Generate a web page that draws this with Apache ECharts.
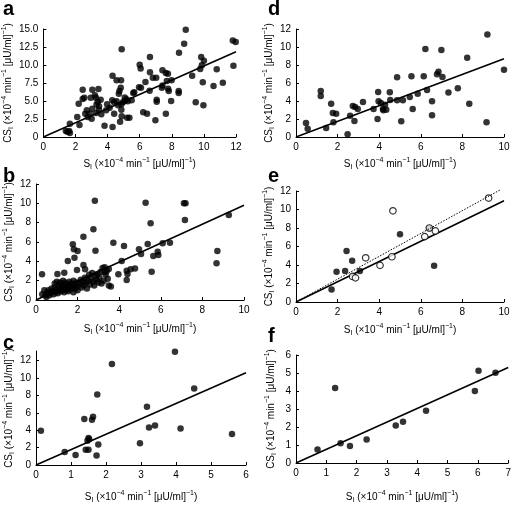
<!DOCTYPE html>
<html><head><meta charset="utf-8">
<script src="https://cdn.jsdelivr.net/npm/echarts@6/dist/echarts.min.js"></script>
<style>html,body{margin:0;padding:0;background:#fff}#c{width:514px;height:505px}</style>
</head><body><div id="c"></div>
<script>
// Panel a
const aX=[8.87,8.77,4.88,11.8,11.98,11.84,8.45,6.64,6.0,6.06,9.83,10.0,9.87,9.77,10.8,6.64,7.42,7.63,7.76,7.03,6.82,4.31,4.56,4.84,6.36,7.99,7.69,9.27,9.93,11.18,10.6,5.96,6.08,7.77,7.38,7.42,7.81,6.62,5.66,8.43,8.43,4.82,4.74,4.7,2.45,3.05,3.43,2.55,2.45,3.21,2.95,3.27,3.39,2.2,3.97,4.29,4.41,4.56,4.66,4.86,4.95,5.07,5.07,5.18,5.26,5.5,5.6,4.86,4.41,4.13,3.91,3.61,3.29,2.89,2.61,2.71,3.05,3.47,3.31,2.77,2.11,2.25,3.81,4.31,5.22,5.36,4.78,4.88,6.22,6.46,6.98,7.06,7.06,7.63,7.96,9.49,9.97,1.65,1.4,1.5,1.61,1.65,3.57,3.47,3.01];
const aY=[14.9,12.96,12.2,13.4,13.2,9.9,11.7,11.1,10.05,9.5,11.1,10.6,9.95,9.44,9.4,8.98,9.26,8.9,8.8,8.24,8.24,8.5,7.87,7.87,7.64,7.87,7.78,8.5,7.6,7.55,7.08,6.9,6.85,6.7,6.85,7.17,6.4,6.44,6.2,6.4,6.1,6.85,6.4,6.0,6.57,6.57,6.67,5.46,5.28,5.79,5.46,5.46,4.9,4.63,4.54,5.09,4.81,4.95,4.4,4.54,4.81,5.5,5.0,5.23,4.95,5.09,6.1,3.8,3.24,4.07,3.7,3.15,3.33,3.24,3.24,3.7,3.94,4.26,4.5,2.78,2.78,1.67,1.57,1.39,2.69,2.69,2.13,2.87,3.43,3.24,2.31,5.19,4.9,3.24,5.0,4.81,4.4,1.85,0.83,0.74,0.83,0.56,5.19,3.8,2.55];
const aFit=[[0,0],[12,11.85]];
// Panel b
const bX=[2.83,2.76,2.28,1.77,1.82,2.0,2.86,3.72,4.23,1.85,1.53,2.28,2.36,1.97,0.29,1.03,1.36,4.12,3.96,4.36,4.36,4.55,4.76,4.4,5.27,7.11,7.19,7.16,9.27,5.51,5.37,4.95,5.05,6.09,6.44,5.85,5.88,5.64,5.56,8.72,8.68,
0.3,0.4,0.45,0.5,0.55,0.6,0.65,0.7,0.75,0.8,0.85,0.9,0.9,0.95,1.0,1.0,1.05,1.1,1.1,1.15,1.2,1.2,1.25,1.3,1.3,1.35,1.4,1.4,1.45,1.5,1.5,1.55,1.6,1.6,1.65,1.7,1.75,1.8,1.8,1.85,1.9,1.95,2.0,2.0,2.1,2.15,2.2,2.25,2.3,2.35,2.4,2.45,2.5,2.55,2.6,2.65,2.7,2.75,2.8,2.85,2.9,2.95,3.0,3.05,3.1,3.15,3.2,3.25,3.3,3.35,3.4,3.45,3.5,3.6,3.3,3.5];
const bY=[10.27,7.31,6.55,5.76,5.24,5.07,5.1,5.93,5.58,4.37,4.03,3.62,3.17,3.1,2.66,2.69,2.83,4.03,2.66,2.07,3.03,3.17,3.27,2.7,10.06,10.0,10.0,8.27,8.79,7.93,5.79,5.24,4.76,5.86,5.93,5.0,4.65,4.55,2.93,5.07,3.79,
0.6,1.0,0.5,0.3,0.8,1.0,0.5,0.7,1.2,0.9,0.6,1.7,1.3,0.8,1.1,1.9,0.7,1.5,1.0,1.8,0.9,1.3,1.6,1.1,2.0,0.8,1.4,1.8,1.0,1.6,1.2,0.9,1.9,1.4,1.1,1.7,1.3,0.8,2.0,1.5,1.2,1.8,1.4,1.0,1.7,2.1,1.3,1.9,1.5,2.3,1.8,1.2,2.0,2.6,1.6,2.2,2.8,1.9,1.5,2.5,2.1,2.7,1.8,2.3,2.9,1.7,3.3,2.0,3.4,2.6,3.0,2.2,1.5,1.4,2.9,3.2];
const bFit=[[0,0],[10,9.8]];
// Panel c
const cX=[0.14,0.82,1.13,1.38,1.42,1.5,1.47,1.5,1.52,1.6,1.63,1.73,1.75,1.78,2.17,2.97,3.17,3.23,3.4,3.97,4.13,4.52,5.6];
const cY=[3.95,1.5,1.15,5.3,1.75,1.75,2.8,3.1,2.95,5.2,5.55,1.1,8.1,2.35,11.6,2.5,6.7,4.3,4.55,13.0,4.2,8.8,3.55];
const cFit=[[0,0],[6,10.6]];
// Panel d
const dX=[9.2,6.22,6.99,8.23,10.0,4.86,5.55,6.14,6.85,6.78,7.04,6.3,7.33,7.78,3.95,4.51,1.19,1.19,4.53,4.86,5.14,5.47,5.85,6.54,8.33,1.69,3.22,3.73,3.97,4.08,4.28,4.18,4.34,4.2,2.73,2.84,2.97,1.77,1.93,1.8,2.6,3.92,5.61,6.54,2.81,5.06,9.16,0.48,0.56,1.45,2.48];
const dY=[11.4,9.78,9.67,8.81,7.48,6.63,6.74,6.74,7.26,6.96,6.67,5.22,4.95,5.41,5.0,4.96,5.11,4.56,4.11,4.07,4.07,4.44,4.81,3.96,3.7,3.7,3.89,3.11,3.96,3.78,3.59,3.11,3.04,2.96,3.44,3.33,3.11,2.67,2.59,1.63,2.37,2.0,3.11,2.41,1.78,1.74,1.63,1.56,0.93,1.0,0.3];
const dFit=[[0,0],[10,8.7]];
// Panel e
const eXfilled=[1.71,1.95,2.43,2.36,2.70,3.07,5.0,6.41,6.64];
const eYfilled=[1.35,3.26,5.51,3.34,4.46,3.34,7.33,7.98,3.92];
const eXopen=[2.72,2.86,3.35,4.04,4.61,4.66,6.19,6.7,6.41,9.26];
const eYopen=[2.76,2.61,4.78,3.96,4.89,9.86,7.07,7.68,8.0,11.24];
const eFit=[[0,0],[10,10.95]];
const eFitOpen=[[0,0],[9.8,12.1]];
// Panel f
const fX=[0.71,1.29,1.47,1.78,2.33,3.29,3.53,4.29,5.9,6.02,6.58];
const fY=[0.75,4.16,1.1,0.94,1.31,2.08,2.29,2.9,4.0,5.12,5.02];
const fFit=[[0,0],[7,5.3]];

const panelLetters=['a','b','c','d','e','f'];
const yTitle='{t|CS}{s|I}{t| (×10}{p|−4}{t| min}{p|−1}{t| [μU/ml]}{p|−1}{t|)}';
const xTitle='{t|S}{s|I}{t| (×10}{p|−4}{t| min}{p|−1}{t| [μU/ml]}{p|−1}{t|)}';

const FONT='Liberation Sans';
const rich={t:{fontSize:10,lineHeight:14,fontFamily:FONT,color:'#000',verticalAlign:'middle'},
  p:{fontSize:7,lineHeight:8,fontFamily:FONT,color:'#000',verticalAlign:'top'},
  s:{fontSize:7,lineHeight:8,fontFamily:FONT,color:'#000',verticalAlign:'bottom'}};
const zip=(xs,ys)=>xs.map((x,i)=>[x,ys[i]]);

const grids=[
 {left:37,top:29,width:199,height:108},
 {left:36,top:184,width:208,height:116},
 {left:36,top:351,width:210,height:119},
 {left:296,top:29,width:208,height:108},
 {left:296,top:191,width:208,height:111},
 {left:296,top:355,width:215,height:114}
];
const xCfg=[{max:12,interval:2,gap:20},{max:10,interval:2,gap:22},{max:6,interval:1,gap:25},{max:10,interval:2,gap:20},{max:10,interval:2,gap:21},{max:7,interval:1,gap:27}];
const yCfg=[{max:15,interval:2.5,gap:25},{max:12,interval:2,gap:19},{max:13.1,interval:2,gap:19},{max:12,interval:2,gap:18},{max:12,interval:2,gap:18},{max:6,interval:1,gap:18}];

function axisBase(){return{axisLine:{show:true,lineStyle:{color:'#000',width:1}},
 axisTick:{show:true,inside:true,length:3,lineStyle:{color:'#000'}},
 splitLine:{show:false},
 axisLabel:{color:'#000',fontSize:10,fontFamily:FONT,margin:5}};}

const xAxis=xCfg.map((c,i)=>Object.assign(axisBase(),{type:'value',gridIndex:i,min:0,max:c.max,interval:c.interval,
  name:xTitle,nameLocation:'middle',nameGap:c.gap,nameTextStyle:{rich:rich}}));
const yAxis=yCfg.map((c,i)=>{const a=axisBase();
  a.axisLabel.showMaxLabel = (i!==2);
  if(i===0) a.axisLabel.formatter=v=>v===0?'0':v.toFixed(1);
  return Object.assign(a,{type:'value',gridIndex:i,min:0,max:c.max,interval:c.interval,
  name:yTitle,nameLocation:'middle',nameGap:c.gap,nameRotate:90,nameTextStyle:{rich:rich}});});

function sc(i,data,open){return{type:'scatter',xAxisIndex:i,yAxisIndex:i,data:data,symbol:'circle',symbolSize:6.5,
  itemStyle:open?{color:'#fff',borderColor:'#000',borderWidth:1.2}:{color:'#000'},silent:true,z:3};}
function ln(i,data,dotted){return{type:'line',xAxisIndex:i,yAxisIndex:i,data:data,symbol:'none',silent:true,clip:false,
  lineStyle:dotted?{color:'#000',width:1,type:[1.5,1.5]}:{color:'#000',width:1.6},z:dotted?4:2};}

const series=[
 sc(0,zip(aX,aY)),ln(0,aFit),
 sc(1,zip(bX,bY)),ln(1,bFit),
 sc(2,zip(cX,cY)),ln(2,cFit),
 sc(3,zip(dX,dY)),ln(3,dFit),
 ln(4,eFit),ln(4,eFitOpen,true),sc(4,zip(eXfilled,eYfilled)),sc(4,zip(eXopen,eYopen),true),
 sc(5,zip(fX,fY)),ln(5,fFit)
];
const letterPos=[[3,-1],[3,166],[3,333],[268,-1],[268,166],[268,326]];
const title=panelLetters.map((l,i)=>({text:l,left:letterPos[i][0],top:letterPos[i][1],padding:0,
  textStyle:{fontSize:20,fontWeight:'bold',fontFamily:FONT,color:'#000'}}));

const chart=echarts.init(document.getElementById('c'),null,{renderer:'canvas'});
chart.setOption({animation:false,backgroundColor:'#fff',title:title,grid:grids,xAxis:xAxis,yAxis:yAxis,series:series});
</script></body></html>
